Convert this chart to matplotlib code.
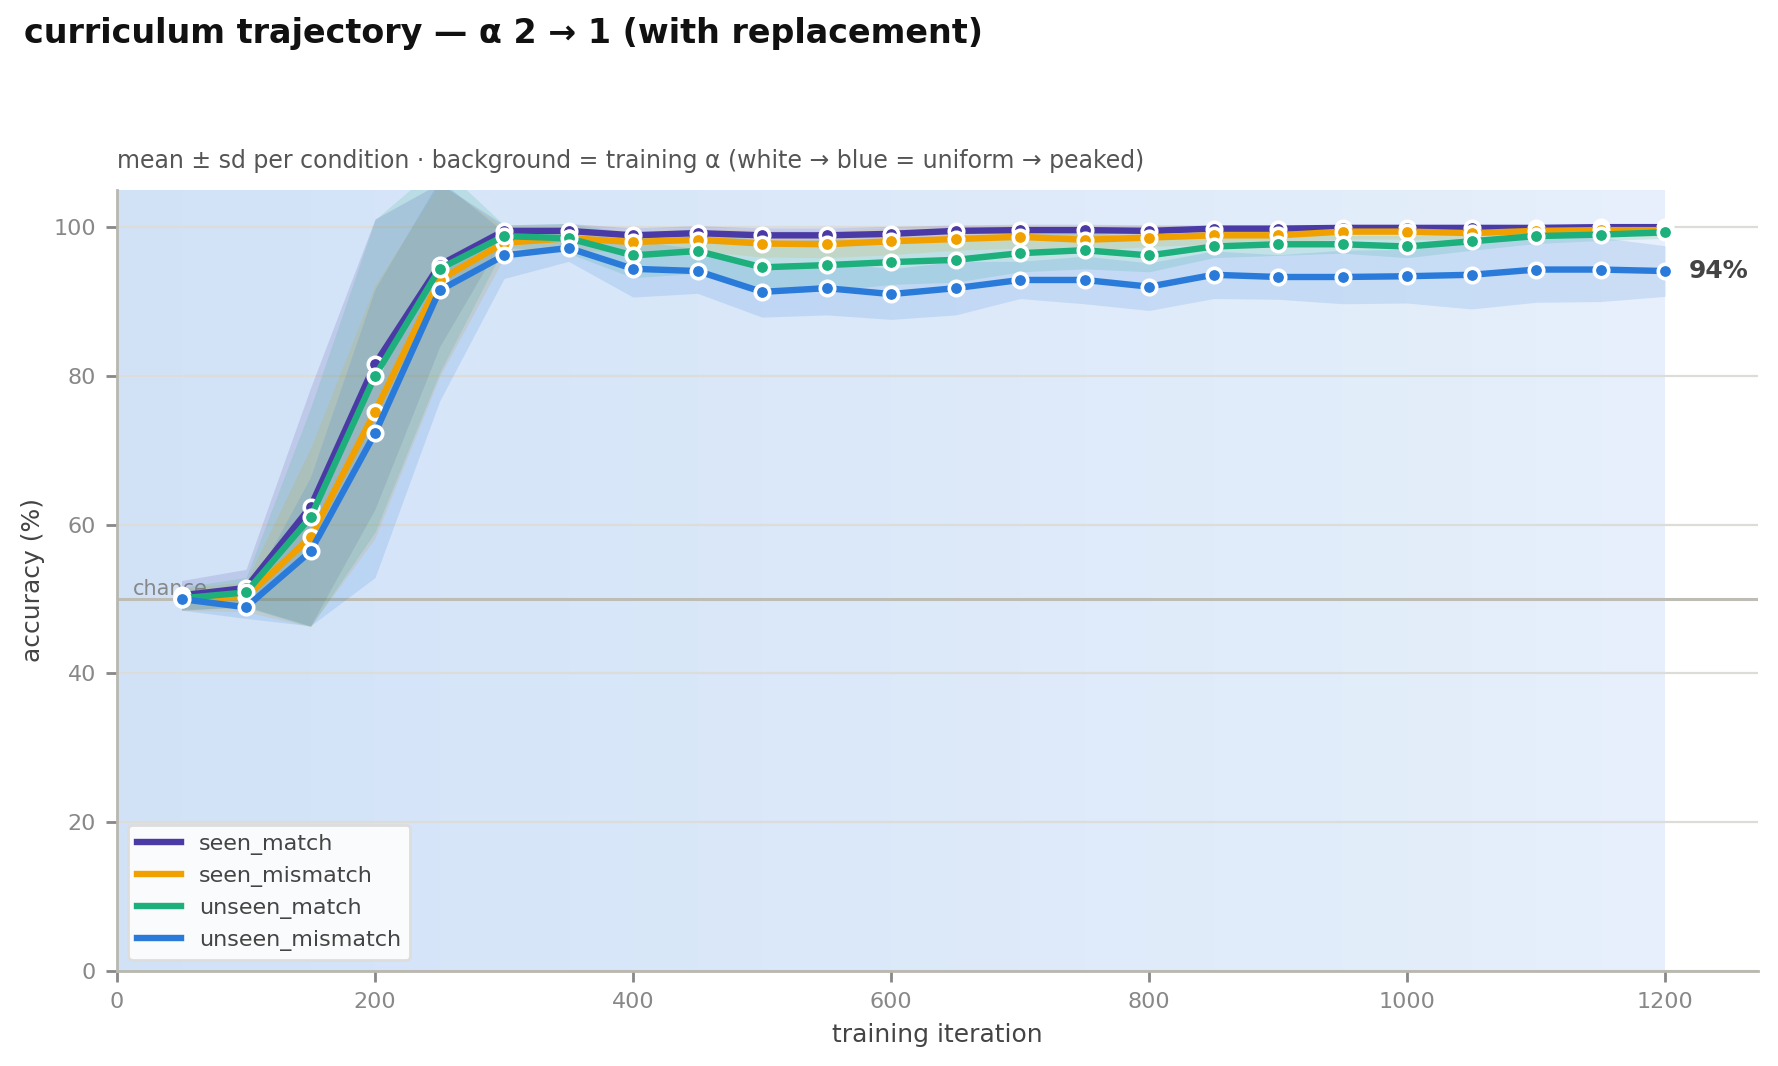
import numpy as np
import matplotlib
matplotlib.use("Agg")
import matplotlib.pyplot as plt
from matplotlib.colors import to_rgb

# evaluation checkpoints
iters = [50, 100, 150, 200, 250, 300, 350, 400, 450, 500, 550, 600,
         650, 700, 750, 800, 850, 900, 950, 1000, 1050, 1100, 1150, 1200]

# mean accuracy (%) per condition
seen_match = [50.5, 51.5, 62.4, 81.6, 94.9, 99.5, 99.5, 98.9, 99.2, 98.9, 98.9, 99.1,
              99.5, 99.6, 99.6, 99.5, 99.8, 99.8, 99.9, 99.9, 99.9, 99.9, 100.0, 100.0]
seen_mismatch = [50.0, 50.3, 58.3, 75.2, 92.9, 97.9, 98.5, 98.0, 98.3, 97.8, 97.7, 98.1,
                 98.4, 98.7, 98.3, 98.6, 98.9, 98.9, 99.4, 99.4, 99.2, 99.5, 99.6, 99.6]
unseen_match = [50.1, 50.9, 61.0, 80.0, 94.4, 98.8, 98.5, 96.2, 96.8, 94.6, 94.9, 95.3,
                95.6, 96.5, 96.9, 96.2, 97.4, 97.7, 97.7, 97.4, 98.1, 98.8, 99.0, 99.3]
unseen_mismatch = [50.0, 48.9, 56.4, 72.3, 91.5, 96.2, 97.2, 94.4, 94.1, 91.3, 91.8, 91.0,
                   91.8, 92.9, 92.9, 92.0, 93.6, 93.3, 93.3, 93.4, 93.6, 94.3, 94.3, 94.1]

# standard deviation per condition
seen_match_sd = [2.0, 2.5, 16.0, 19.5, 11.0, 0.8, 1.0, 1.0, 1.0, 1.0, 1.0, 1.0,
                 0.8, 0.8, 0.8, 0.8, 0.5, 0.5, 0.4, 0.4, 0.4, 0.3, 0.3, 0.3]
seen_mismatch_sd = [1.5, 2.0, 12.0, 17.0, 13.0, 2.0, 1.5, 1.5, 1.5, 1.8, 1.8, 1.8,
                    1.5, 1.5, 1.5, 1.2, 1.2, 1.0, 1.0, 1.0, 1.0, 0.8, 0.8, 0.8]
unseen_match_sd = [1.5, 2.0, 14.7, 21.0, 14.0, 1.5, 2.0, 3.0, 3.0, 3.5, 3.5, 3.0,
                   3.0, 2.5, 2.5, 2.2, 1.5, 1.5, 1.2, 1.5, 1.2, 1.0, 0.8, 0.8]
unseen_mismatch_sd = [1.5, 1.5, 10.0, 19.4, 14.9, 3.1, 1.8, 3.8, 3.0, 3.4, 3.6, 3.4,
                      3.6, 2.5, 3.2, 3.2, 3.2, 3.0, 3.6, 3.6, 4.6, 4.4, 4.3, 3.4]

# training alpha for each 50-iteration block (0-50, 50-100, ...)
block_starts = [0, 50, 100, 150, 200, 250, 300, 350, 400, 450, 500, 550,
                600, 650, 700, 750, 800, 850, 900, 950, 1000, 1050, 1100, 1150]
block_alpha = [2.00, 1.96, 1.91, 1.87, 1.83, 1.78, 1.74, 1.70, 1.65, 1.61, 1.57, 1.52,
               1.48, 1.43, 1.39, 1.35, 1.30, 1.26, 1.22, 1.17, 1.13, 1.09, 1.04, 1.00]
block_width = 50

names = ["seen_match", "seen_mismatch", "unseen_match", "unseen_mismatch"]
means = [seen_match, seen_mismatch, unseen_match, unseen_mismatch]
sds = [seen_match_sd, seen_mismatch_sd, unseen_match_sd, unseen_mismatch_sd]
colors = ["#4a3aa6", "#f0a100", "#1daf7c", "#2a7bd9"]

light = np.array(to_rgb("#e6effb"))
dark = np.array(to_rgb("#d1e2f7"))

fig = plt.figure(figsize=(8.89, 5.33), dpi=200)
ax = fig.add_axes([0.0658, 0.0891, 0.923, 0.7327])

# background = training alpha
for x0, a in zip(block_starts, block_alpha):
    t = (a - 1.0) / 1.0
    c = light + (dark - light) * t
    ax.axvspan(x0, x0 + block_width, color=c, lw=0, zorder=0)

ax.set_axisbelow(True)
ax.grid(axis="y", color="#dcdcd8", lw=0.8, zorder=0.5)

ax.axhline(50, color="#bdbdb5", lw=1.1, zorder=1)
ax.text(12, 50.6, "chance", fontsize=7.5, color="#888888", zorder=1)

x = np.array(iters)
for name, m, s, c in zip(names, means, sds, colors):
    m = np.array(m)
    s = np.array(s)
    ax.fill_between(x, m - s, m + s, color=c, alpha=0.15, lw=0, zorder=2)

for name, m, c in zip(names, means, colors):
    ax.plot(x, m, color=c, lw=2.3, marker="o", ms=5.2, mfc=c, mec="white",
            mew=1.3, label=name, zorder=3)

ax.text(iters[-1] + 18, unseen_mismatch[-1], "%d%%" % round(unseen_mismatch[-1]),
        fontsize=9, fontweight="bold", color="#444444", va="center", ha="left")

ax.set_xlim(0, 1272)
ax.set_ylim(0, 105)
ax.set_xticks([0, 200, 400, 600, 800, 1000, 1200])
ax.set_yticks([0, 20, 40, 60, 80, 100])
ax.tick_params(colors="#888888", labelsize=8, length=4, width=1)
for sp in ["top", "right"]:
    ax.spines[sp].set_visible(False)
for sp in ["left", "bottom"]:
    ax.spines[sp].set_color("#b8b8b0")
    ax.spines[sp].set_linewidth(1.0)

ax.set_xlabel("training iteration", fontsize=9, color="#444444", labelpad=4)
ax.set_ylabel("accuracy (%)", fontsize=9, color="#444444", labelpad=3)
ax.set_title("mean \u00b1 sd per condition \u00b7 background = training \u03b1 (white \u2192 blue = uniform \u2192 peaked)",
             loc="left", fontsize=8.5, color="#555555", pad=8)

fig.text(0.0135, 0.984, "curriculum trajectory \u2014 \u03b1 2 \u2192 1 (with replacement)",
         fontsize=12, fontweight="bold", color="#111111", va="top", ha="left")

leg = ax.legend(loc="lower left", fontsize=8, frameon=True, handlelength=2.0,
                borderaxespad=0.5)
leg.get_frame().set_facecolor("#fafbfc")
leg.get_frame().set_edgecolor("#dddddd")
leg.get_frame().set_alpha(1.0)
for t in leg.get_texts():
    t.set_color("#444444")
for h in leg.get_lines():
    h.set_marker("")

fig.savefig("out.png", dpi=200)
